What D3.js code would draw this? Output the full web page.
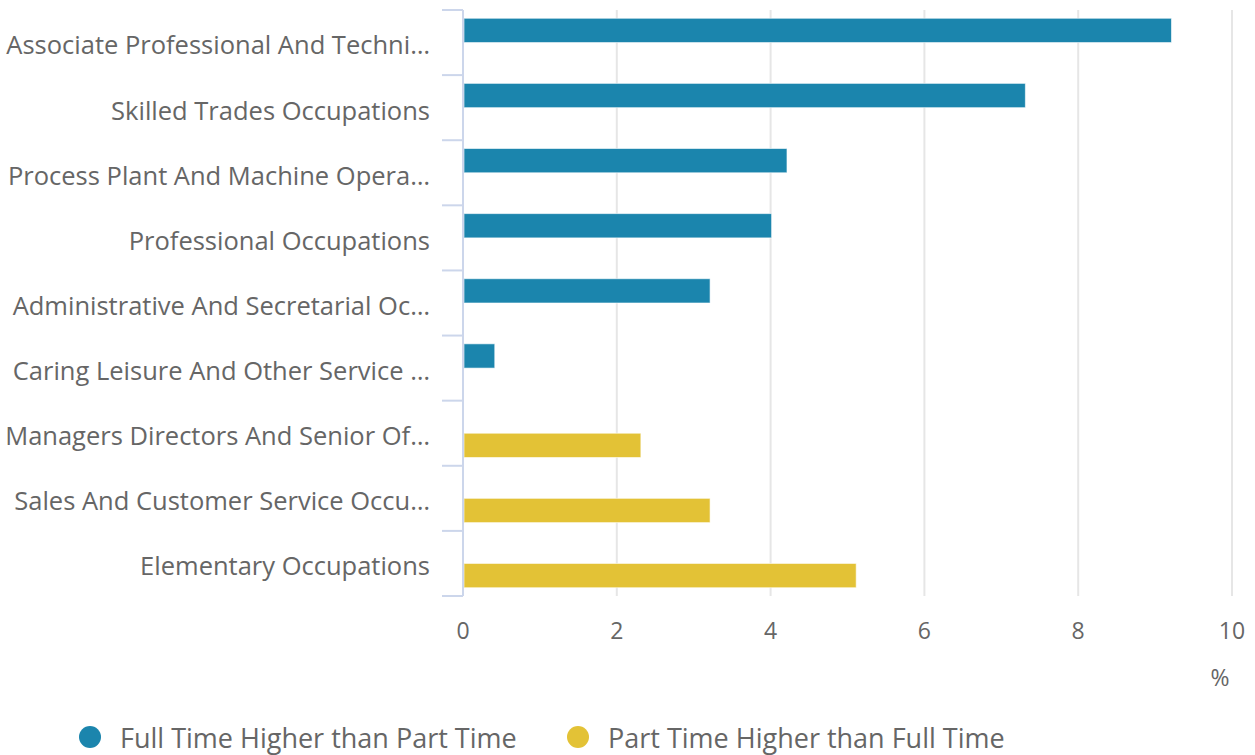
<!DOCTYPE html>
<html>
<head>
<meta charset="utf-8">
<script src="https://cdn.jsdelivr.net/npm/d3@7"></script>
<style>
  body { margin: 0; background: #fff; }
  text { font-family: "Open Sans", sans-serif; fill: #666; }
</style>
</head>
<body>
<div id="chart"></div>
<script>
const categories = [
  "Associate Professional And Technical Occupations",
  "Skilled Trades Occupations",
  "Process Plant And Machine Operatives",
  "Professional Occupations",
  "Administrative And Secretarial Occupations",
  "Caring Leisure And Other Service Occupations",
  "Managers Directors And Senior Officials",
  "Sales And Customer Service Occupations",
  "Elementary Occupations"
];
const seriesNames = ["Full Time Higher than Part Time", "Part Time Higher than Full Time"];
const fullTime = [9.2, 7.3, 4.2, 4.0, 3.2, 0.4, null, null, null];
const partTime = [null, null, null, null, null, null, 2.3, 3.2, 5.1];
const xTicks = [0, 2, 4, 6, 8, 10];
const colors = ["#1b85ad", "#e3c236"];

const W = 1255, H = 755;
const margin = { top: 10, right: 23, bottom: 159, left: 463 };
const width = W - margin.left - margin.right,
      height = H - margin.top - margin.bottom;

const svg = d3.select("#chart").append("svg")
  .attr("width", W).attr("height", H);
const g = svg.append("g")
  .attr("transform", `translate(${margin.left},${margin.top})`);

const x = d3.scaleLinear().domain([0, 10]).range([0, width]);
const y = d3.scaleBand().domain(categories).range([0, height]);
const bw = y.bandwidth();
const inner = d3.scaleBand().domain([0, 1])
  .range([0.127 * bw, 0.873 * bw]);

// gridlines
g.append("g").selectAll("line")
  .data(xTicks.filter(d => d > 0))
  .join("line")
  .attr("x1", d => x(d)).attr("x2", d => x(d))
  .attr("y1", 0).attr("y2", height)
  .attr("stroke", "#e6e6e6").attr("stroke-width", 2);

// x tick labels
g.append("g").selectAll("text")
  .data(xTicks)
  .join("text")
  .attr("x", d => x(d)).attr("y", height + 43)
  .attr("text-anchor", "middle")
  .style("font-size", "23px")
  .text(d => d);

g.append("text")
  .attr("x", width - 12).attr("y", height + 90)
  .attr("text-anchor", "middle")
  .style("font-size", "23px")
  .text("%");

// bars
const series = [fullTime, partTime];
series.forEach((vals, s) => {
  g.append("g").selectAll("rect")
    .data(categories.map((c, i) => ({ c, v: vals[i] })).filter(d => d.v != null))
    .join("rect")
    .attr("x", x(0) + 1)
    .attr("y", d => y(d.c) + inner(s))
    .attr("width", d => x(d.v) - x(0))
    .attr("height", inner.bandwidth())
    .attr("fill", colors[s])
    .attr("stroke", "rgba(255,255,255,0.6)")
    .attr("stroke-width", 1);
});

// y axis line and ticks
g.append("line")
  .attr("x1", 0).attr("x2", 0).attr("y1", 0).attr("y2", height)
  .attr("stroke", "#ccd6eb").attr("stroke-width", 2);
g.append("g").selectAll("line")
  .data(d3.range(categories.length + 1))
  .join("line")
  .attr("x1", -21).attr("x2", 0)
  .attr("y1", d => d * y.step()).attr("y2", d => d * y.step())
  .attr("stroke", "#ccd6eb").attr("stroke-width", 2);

// category labels, truncated like the original
const maxLabel = 425;
const labels = g.append("g").selectAll("text")
  .data(categories)
  .join("text")
  .attr("x", -33)
  .attr("y", d => y(d) + bw / 2 + 3)
  .attr("dy", "0.35em")
  .attr("text-anchor", "end")
  .style("font-size", "25.5px")
  .text(d => d);
labels.each(function(d) {
  const t = d3.select(this);
  if (this.getComputedTextLength() <= maxLabel) return;
  let s = d;
  while (s.length > 0) {
    s = s.slice(0, -1);
    t.text(s + "…");
    if (this.getComputedTextLength() <= maxLabel) break;
  }
});

// legend
const legend = svg.append("g").attr("transform", `translate(0, ${H - 16})`);
const legendX = [90, 578];
seriesNames.forEach((name, i) => {
  const item = legend.append("g").attr("transform", `translate(${legendX[i]},0)`);
  item.append("circle").attr("r", 11).attr("cy", -2).attr("fill", colors[i]);
  item.append("text")
    .attr("x", 30).attr("dy", "0.35em")
    .style("font-size", "27px")
    .text(name);
});
</script>
</body>
</html>
